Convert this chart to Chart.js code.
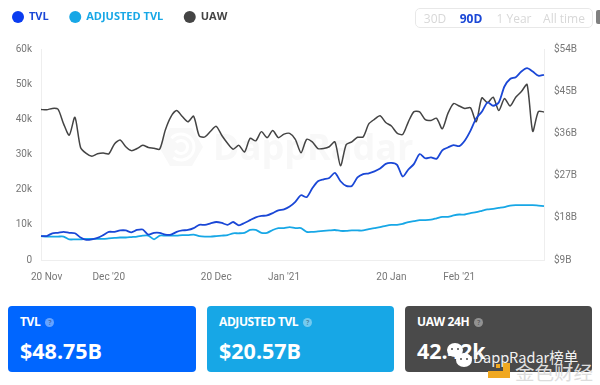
<!DOCTYPE html>
<html><head><meta charset="utf-8">
<script src="https://cdn.jsdelivr.net/npm/chart.js@4"></script>
<style>
html,body{margin:0;padding:0;background:#fff;width:600px;height:385px;overflow:hidden;font-family:"Open Sans",sans-serif}
#wrap{position:absolute;left:0;top:0;width:600px;height:290px}
.range{position:absolute;left:415px;top:8px;width:176px;height:18px;border:1px solid #e8e8e8;border-radius:5px;font-size:12px;color:#d8d8d8}
.range span{position:absolute;top:1px;transform:translateX(-50%);white-space:nowrap}
.range .on{color:#1a47d6;font-weight:700}
.stub{position:absolute;left:596px;top:10px;width:4px;height:14px;background:#808080;border-radius:2px 0 0 2px}
.card{position:absolute;top:306px;height:66px;border-radius:4px;color:#fff}
.card .t{position:absolute;left:12px;top:7px;font-size:12px;font-weight:700;white-space:nowrap;letter-spacing:-.4px}
.card .v{position:absolute;left:12px;top:30px;font-size:21.5px;font-weight:700;white-space:nowrap}
.q{display:inline-block;width:9px;height:9px;line-height:9px;border-radius:50%;background:rgba(255,255,255,.4);font-size:7px;text-align:center;margin-left:5px;vertical-align:1px;color:rgba(0,0,0,.35);letter-spacing:0}
.mark{position:absolute;white-space:nowrap}
.blob{position:absolute;background:#fff;border-radius:50%}
.eye{position:absolute;background:#4a4a4a;border-radius:50%;width:2px;height:2px}
.gold{position:absolute;background:#f0a820}
</style></head><body>
<div id="wrap"><canvas id="c" width="600" height="290"></canvas></div>
<div class="range"><span style="left:19px">30D</span><span class="on" style="left:55px">90D</span><span style="left:98px">1 Year</span><span style="left:148px">All time</span></div>
<div class="stub"></div>
<div class="card" style="left:8px;width:188px;background:#0066ff"><div class="t">TVL<span class="q">?</span></div><div class="v">$48.75B</div></div>
<div class="card" style="left:207px;width:187px;background:#17a7e6"><div class="t">ADJUSTED TVL<span class="q">?</span></div><div class="v">$20.57B</div></div>
<div class="card" style="left:405px;width:187px;background:#4a4a4a"><div class="t">UAW 24H<span class="q">?</span></div><div class="v">42.42k</div></div>
<div class="blob" style="left:447px;top:343px;width:16px;height:14px"></div>
<div class="blob" style="left:456px;top:353px;width:16px;height:14px"></div>
<div class="eye" style="left:451px;top:348px"></div><div class="eye" style="left:457px;top:348px"></div>
<div class="eye" style="left:460px;top:358px"></div><div class="eye" style="left:466px;top:358px"></div>
<div class="gold" style="left:503px;top:363px;width:7px;height:15px"></div>
<div class="gold" style="left:488px;top:371px;width:22px;height:7px"></div>
<div class="gold" style="left:496px;top:364px;width:4px;height:4px"></div>
<div class="mark" style="left:473px;top:346px;font-size:14.5px;color:#f2f2f2;font-family:'Noto Sans CJK SC'">DappRadar榜单</div>
<div class="mark" style="left:515px;top:357px;font-size:19.5px;color:#dcdcdc;font-family:'Noto Sans CJK SC'">金色财经</div>
<script>
const seriesNames=["TVL","ADJUSTED TVL","UAW"];
const seriesColors=["#1a47d6","#17a7e6","#444444"];
const tickMarks={1:"20 Nov",12:"Dec '20",31:"20 Dec",43:"Jan '21",62:"20 Jan",74:"Feb '21"};
const leftTicks=[0,10,20,30,40,50,60];
const rightTicks=[9,18,27,36,45,54];
const tvl=[14.1,14.1,14.7,14.8,15.0,14.8,14.7,13.8,13.3,13.4,13.7,14.3,15.0,15.0,15.3,15.3,14.9,15.4,15.5,14.4,14.8,14.8,14.4,14.4,15.0,15.3,15.4,15.8,16.5,16.5,16.8,17.1,16.9,16.5,17.1,16.4,16.9,17.5,18.1,18.4,18.5,19.0,19.6,19.8,20.4,21.4,22.8,22.4,24.3,25.8,26.2,26.5,27.6,25.8,24.8,24.8,26.6,27.3,27.5,27.9,28.5,29.5,29.7,29.3,26.8,28.3,29.5,31.6,30.7,30.9,30.6,32.4,33.0,33.5,33.3,34.5,36.6,39.2,40.6,42.6,41.9,42.6,46.0,47.6,48.0,49.2,49.9,49.2,48.3,48.5];
const adjusted=[14.1,14.0,14.0,14.0,14.0,13.4,13.4,13.4,13.5,13.5,13.5,13.5,13.6,13.7,13.8,13.8,13.9,14.0,14.2,14.2,13.4,14.2,14.2,14.2,14.2,14.3,14.3,14.4,14.1,14.0,14.0,14.1,14.2,14.3,14.7,14.7,14.8,15.4,15.4,14.8,14.8,15.4,15.8,15.8,16.0,15.8,15.8,15.0,15.0,15.1,15.2,15.3,15.4,15.2,15.2,15.3,15.3,15.3,15.6,15.8,16.0,16.3,16.5,16.5,16.7,17.1,17.3,17.5,17.5,17.6,17.9,18.2,18.2,18.5,18.7,18.7,19.0,19.2,19.5,19.8,19.9,20.1,20.3,20.6,20.7,20.7,20.7,20.7,20.6,20.5];
const uaw=[42.8,42.7,43.1,42.9,38.7,35.5,40.6,32.0,30.3,29.5,30.2,30.4,30.2,33.0,34.1,32.2,31.1,31.7,32.6,32.0,31.8,31.5,37.0,40.8,42.5,40.8,39.3,40.9,35.3,35.0,36.6,38.0,35.4,33.2,31.5,32.6,30.7,34.6,33.9,36.5,34.8,36.8,34.8,35.8,36.0,34.3,30.5,34.3,33.6,31.7,31.7,32.2,33.6,26.8,32.8,33.6,34.9,35.0,38.7,40.0,41.0,39.1,38.1,36.1,35.7,39.3,42.2,42.1,39.9,39.7,40.3,37.3,41.7,44.5,43.8,43.1,43.3,39.3,46.1,44.7,46.3,42.5,45.9,43.8,46.3,47.9,49.9,36.6,42.2,42.1];
const dayLabels=uaw.map((_,i)=>{const d=new Date(Date.UTC(2020,10,19+i));return d.toISOString().slice(0,10)});
const axisFont={family:'Roboto',size:10};

const watermark={id:'watermark',beforeDatasetsDraw(ch){
  const g=ch.ctx;g.save();
  const cx=181,cy=147,r=22;
  g.fillStyle='#f8f8f8';g.beginPath();
  for(let k=0;k<6;k++){const a=Math.PI/3*k;const x=cx+r*Math.cos(a),y=cy+r*Math.sin(a);k?g.lineTo(x,y):g.moveTo(x,y)}
  g.closePath();g.fill();
  g.strokeStyle='#fff';g.lineWidth=3;
  g.beginPath();g.arc(cx,cy,13,-2.4,2.2);g.stroke();
  g.beginPath();g.arc(cx,cy,6.5,-2.4,2.6);g.stroke();
  g.fillStyle='#f8f8f8';g.font='700 36px "Open Sans"';g.textBaseline='middle';
  g.fillText('DappRadar',213,150);
  g.restore();
}};
const legendRoom={id:'legendRoom',beforeLayout(ch){
  const lg=ch.legend;if(!lg||lg._patched)return;
  const fit=lg.fit;lg.fit=function(){fit.call(this);this.height=58.5};lg._patched=true;
}};

new Chart(document.getElementById('c'),{
  type:'line',
  plugins:[watermark,legendRoom],
  data:{labels:dayLabels,datasets:[
    {label:seriesNames[0],data:tvl,yAxisID:'yR',borderColor:seriesColors[0],backgroundColor:'#0a3cf0',borderWidth:1.8,pointRadius:0,tension:.25,order:1},
    {label:seriesNames[1],data:adjusted,yAxisID:'yR',borderColor:seriesColors[1],backgroundColor:seriesColors[1],borderWidth:1.8,pointRadius:0,tension:.25,order:2},
    {label:seriesNames[2],data:uaw,yAxisID:'yL',borderColor:seriesColors[2],backgroundColor:seriesColors[2],borderWidth:1.5,pointRadius:0,tension:.25,order:3}
  ]},
  options:{
    responsive:false,animation:false,
    layout:{padding:{top:-9.5,left:-8.5,right:0,bottom:0}},
    plugins:{
      tooltip:{enabled:false},
      legend:{position:'top',align:'start',
        labels:{usePointStyle:true,pointStyle:'circle',boxWidth:11,boxHeight:8.5,padding:21,
          font:{family:'"Open Sans"',size:11,weight:'700'},
          generateLabels(ch){return ch.data.datasets.map((d,i)=>({text:d.label,fillStyle:d.backgroundColor,strokeStyle:d.backgroundColor,lineWidth:0,pointStyle:'circle',fontColor:d.borderColor,datasetIndex:i}))}
        }}
    },
    scales:{
      x:{grid:{display:false},border:{color:'#eeeeee'},
        afterFit(s){s.height=30},
        ticks:{autoSkip:false,maxRotation:0,color:'#777',padding:3,font:axisFont,
          callback(v,i){return tickMarks[i]||''}}},
      yL:{position:'left',min:0,max:60,grid:{display:false},border:{color:'#eeeeee'},
        afterFit(s){s.width=49.5},
        afterBuildTicks(s){s.ticks=leftTicks.map(v=>({value:v}))},
        ticks:{color:'#777',padding:1,font:axisFont,callback:v=>v===0?'0':v+'k'}},
      yR:{position:'right',min:9,max:54,grid:{display:false},border:{color:'#eeeeee'},
        afterFit(s){s.width=56},
        afterBuildTicks(s){s.ticks=rightTicks.map(v=>({value:v}))},
        ticks:{color:'#777',padding:2,font:axisFont,callback:v=>'$'+v+'B'}}
    }
  }
});
</script>
</body></html>
